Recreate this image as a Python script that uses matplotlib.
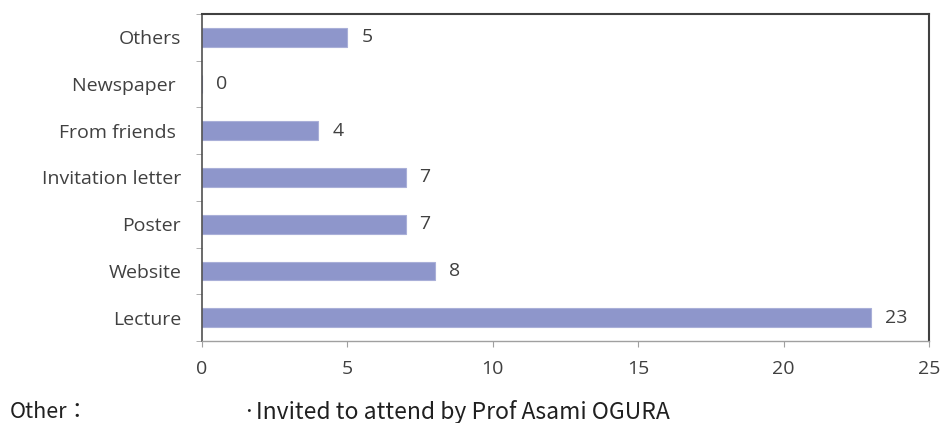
import numpy as np
import matplotlib
matplotlib.use("Agg")
import matplotlib.pyplot as plt

# 데이터
categories = ["Lecture", "Website", "Poster", "Invitation letter",
              "From friends ", "Newspaper ", "Others"]
counts = [23, 8, 7, 7, 4, 0, 5]
x_ticks = [0, 5, 10, 15, 20, 25]
note_label = "Other："
note_text = "·Invited to attend by Prof Asami OGURA"

plt.rcParams['font.family'] = ['Open Sans', 'DejaVu Sans']
text_color = '#404040'

fig = plt.figure(figsize=(9.43, 4.23), dpi=100)
ax = fig.add_axes([0.2142, 0.1939, 0.7710, 0.7730])

y = np.arange(len(categories))
ax.barh(y, counts, height=0.4, color='#8E96CB', edgecolor='#A9AFD8', linewidth=0.8)

for yi, v in zip(y, counts):
    ax.annotate(str(v), xy=(v, yi), xytext=(10, 0), textcoords='offset points',
                va='center', ha='left', fontsize=14, color=text_color)

ax.set_xlim(0, 25)
ax.set_ylim(-0.5, len(categories) - 0.5)
ax.set_xticks(x_ticks)
ax.set_xticklabels([str(t) for t in x_ticks], fontsize=14, color=text_color)
ax.set_yticks(y)
ax.set_yticklabels(categories, fontsize=14, color=text_color)
ax.set_yticks(np.arange(-0.5, len(categories), 1.0), minor=True)

ax.tick_params(axis='y', which='major', length=0, pad=15)
ax.tick_params(axis='y', which='minor', length=4, color='#A0A0A0', direction='out')
ax.tick_params(axis='x', which='major', length=4, color='#A0A0A0', direction='out', pad=10)

for side in ['top', 'right']:
    ax.spines[side].set_color('#404040')
    ax.spines[side].set_linewidth(1.5)
ax.spines['left'].set_color('#505050')
ax.spines['left'].set_linewidth(1.2)
ax.spines['bottom'].set_color('#A0A0A0')
ax.spines['bottom'].set_linewidth(1.0)

fig.text(10 / 943, 1 - 412 / 423, note_label, fontsize=15.5, color='#202020',
         va='center', ha='left', family=['Noto Sans CJK JP', 'DejaVu Sans'])
fig.text(243 / 943, 1 - 412 / 423, note_text, fontsize=16.5, color='#202020',
         va='center', ha='left', family=['Noto Sans CJK JP', 'DejaVu Sans'])

fig.savefig("out.png", dpi=100)
